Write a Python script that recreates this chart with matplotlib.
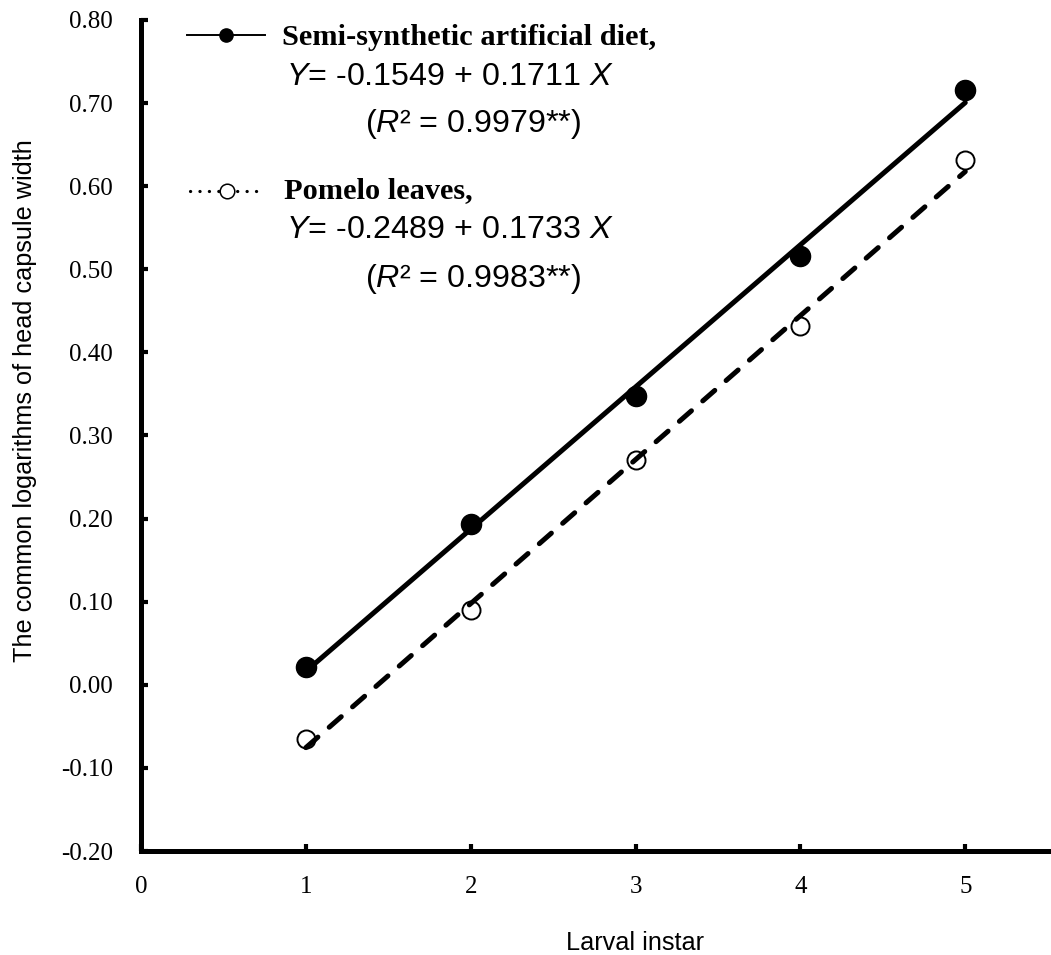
import matplotlib
matplotlib.use("Agg")
import matplotlib.pyplot as plt
import numpy as np

# larval instars and log10 head capsule widths
instars = [1, 2, 3, 4, 5]
diet_log_width = [0.022, 0.193, 0.347, 0.516, 0.716]
pomelo_log_width = [-0.065, 0.090, 0.270, 0.432, 0.631]

# regression coefficients shown on the chart
diet_fit = (-0.1549, 0.1711)
pomelo_fit = (-0.2489, 0.1733)

y_ticks = [-0.20, -0.10, 0.00, 0.10, 0.20, 0.30, 0.40, 0.50, 0.60, 0.70, 0.80]
x_ticks = [0, 1, 2, 3, 4, 5]

SERIF = "Liberation Serif"
SANS = "Liberation Sans"
W, H = 1051, 955


def main():
    fig = plt.figure(figsize=(W / 100, H / 100), dpi=100)
    ax = fig.add_axes([141 / W, 1 - 851 / H, 1 - 141 / W, (851 - 20) / H])

    x = np.array(instars, dtype=float)
    xfit = np.array([x[0], x[-1]])

    # observed points (under the lines)
    ax.plot(x, diet_log_width, "o", color="black", ms=14.5, zorder=2)
    ax.plot(x, pomelo_log_width, "o", mfc="white", mec="black", mew=1.4,
            ms=13, zorder=2)

    # fitted lines
    ax.plot(xfit, diet_fit[0] + diet_fit[1] * xfit, color="black", lw=3.6,
            solid_capstyle="round", zorder=3)
    ax.plot(xfit, pomelo_fit[0] + pomelo_fit[1] * xfit, color="black", lw=3.6,
            linestyle=(0, (3.2, 3.0)), dash_capstyle="round", zorder=3)

    ax.set_xlim(0, 5.52)
    ax.set_ylim(-0.2, 0.8)
    ax.set_xticks(x_ticks)
    ax.set_xticklabels([str(t) for t in x_ticks], fontfamily=SERIF, fontsize=18)
    ax.set_yticks(y_ticks)
    ax.set_yticklabels(["%.2f" % t for t in y_ticks], fontfamily=SERIF, fontsize=18)
    ax.tick_params(axis="both", direction="in", length=5, width=3)
    ax.tick_params(axis="x", pad=18)
    ax.tick_params(axis="y", pad=20)

    for side in ["top", "right"]:
        ax.spines[side].set_visible(False)
    for side in ["left", "bottom"]:
        ax.spines[side].set_linewidth(3.6)

    # axis titles
    fig.text(25 / W, 1 - 401 / H, "The common logarithms of head capsule width",
             fontfamily=SANS, fontsize=18.2, rotation=90, ha="center", va="center")
    fig.text(635 / W, 1 - 943 / H, "Larval instar", fontfamily=SANS, fontsize=18.2,
             ha="center", va="center")

    # legend drawn by hand
    def px(xp, yp):
        return ax.transAxes.inverted().transform(
            fig.transFigure.transform((xp / W, 1 - yp / H)))

    tr = ax.transAxes
    a, b = px(187, 35), px(265, 35)
    ax.plot([a[0], b[0]], [a[1], b[1]], color="black", lw=1.4, transform=tr, clip_on=False)
    ax.plot([(a[0] + b[0]) / 2], [a[1]], "o", color="black", ms=9.5, transform=tr,
            clip_on=False)
    a, b = px(190, 191), px(265, 191)
    ax.plot([a[0], b[0]], [a[1], b[1]], color="black", lw=2.3, linestyle=(0, (0.05, 2.9)),
            dash_capstyle="round", transform=tr, clip_on=False)
    m = px(227, 191)
    ax.plot([m[0]], [m[1]], "o", mfc="white", mec="black", mew=1.1, ms=10.5,
            transform=tr, clip_on=False, zorder=5)

    def txt(xp, yp, s, **kw):
        p = px(xp, yp)
        ax.text(p[0], p[1], s, transform=tr, va="baseline", ha="left", **kw)

    txt(282, 45, "Semi-synthetic artificial diet,", fontfamily=SERIF, fontsize=21.9,
        fontweight="bold")
    txt(286, 85, r"$\mathit{Y}$= -0.1549 + 0.1711 $\mathit{X}$", fontfamily=SANS, fontsize=23.2)
    txt(365, 132, "($\\mathit{R}$\u00b2 = 0.9979**)", fontfamily=SANS, fontsize=23.2)
    txt(284, 198, "Pomelo leaves,", fontfamily=SERIF, fontsize=21.9, fontweight="bold")
    txt(286, 238, r"$\mathit{Y}$= -0.2489 + 0.1733 $\mathit{X}$", fontfamily=SANS, fontsize=23.2)
    txt(365, 287, "($\\mathit{R}$\u00b2 = 0.9983**)", fontfamily=SANS, fontsize=23.2)

    plt.savefig("out.png", dpi=100)


if __name__ == "__main__":
    plt.rcParams["mathtext.fontset"] = "custom"
    plt.rcParams["mathtext.it"] = "Liberation Sans:italic"
    plt.rcParams["mathtext.rm"] = "Liberation Sans"
    main()
